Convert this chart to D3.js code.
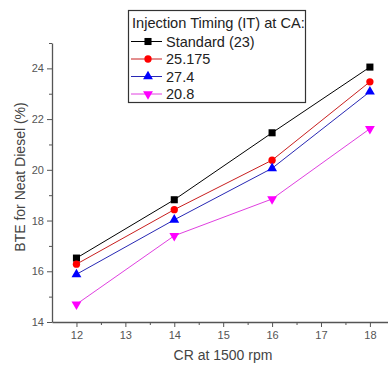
<!DOCTYPE html>
<html>
<head>
<meta charset="utf-8">
<script src="https://cdn.jsdelivr.net/npm/d3@7"></script>
<style>
body{margin:0;background:#fff;}
svg{display:block;font-family:"Liberation Sans",Arial,sans-serif;}
</style>
</head>
<body>
<div id="chart"></div>
<script>
// CR values on the x axis
var crValues = [12, 14, 16, 18];
var seriesNames = ["Standard (23)", "25.175", "27.4", "20.8"];
var standardBTE = [16.52, 18.82, 21.46, 24.05];
var it25175BTE = [16.28, 18.43, 20.38, 23.47];
var it274BTE = [15.88, 18.03, 20.06, 23.08];
var it208BTE = [14.70, 17.40, 18.85, 21.62];
var xTicks = [12, 13, 14, 15, 16, 17, 18];
var yTicks = [14, 16, 18, 20, 22, 24];
var legendTitle = "Injection Timing (IT) at CA:";

var width = 388, height = 365;
var mLeft = 52, mBottom = 322, mTop = 43;

var x = d3.scaleLinear().domain([11.5, 18.37]).range([mLeft, 388]);
var y = d3.scaleLinear().domain([14, 25]).range([mBottom, mTop]);

var series = [
  {name: seriesNames[0], vals: standardBTE, color: "#000000", line: "#000000", sym: d3.symbolSquare, size: 50},
  {name: seriesNames[1], vals: it25175BTE, color: "#ff0000", line: "#c81e1e", sym: d3.symbolCircle, size: 42},
  {name: seriesNames[2], vals: it274BTE, color: "#0000ff", line: "#2828b4", sym: d3.symbolTriangle, size: 42},
  {name: seriesNames[3], vals: it208BTE, color: "#ff00ff", line: "#e040e0", sym: d3.symbolTriangle, size: 42, down: true}
];

var svg = d3.select("#chart").append("svg")
  .attr("width", width).attr("height", height);

var axisCol = "#555";

// x axis
svg.append("g").attr("transform", "translate(0," + mBottom + ")")
  .call(d3.axisBottom(x).tickValues(xTicks).tickSize(5).tickSizeOuter(0).tickPadding(4).tickFormat(d3.format("d")));
svg.append("g").attr("transform", "translate(0," + mBottom + ")")
  .call(d3.axisBottom(x).tickValues(d3.range(12.5, 18.4, 1)).tickSize(3).tickSizeOuter(0).tickFormat(""))
  .select(".domain").remove();

// y axis
svg.append("g").attr("transform", "translate(" + mLeft + ",0)")
  .call(d3.axisLeft(y).tickValues(yTicks).tickSize(5).tickSizeOuter(0).tickPadding(3).tickFormat(d3.format("d")));
svg.append("g").attr("transform", "translate(" + mLeft + ",0)")
  .call(d3.axisLeft(y).tickValues([15, 17, 19, 21, 23, 25]).tickSize(3).tickSizeOuter(0).tickFormat(""))
  .select(".domain").remove();

svg.selectAll(".domain").attr("stroke", axisCol).attr("stroke-width", 1.3);
svg.selectAll(".tick line").attr("stroke", axisCol);
svg.selectAll(".tick text").attr("fill", "#555").style("font-size", "11px");

// axis titles
svg.append("text").attr("x", 223).attr("y", 360).attr("text-anchor", "middle")
  .attr("fill", "#444").style("font-size", "14px").text("CR at 1500 rpm");
svg.append("text").attr("transform", "translate(25,177) rotate(-90)").attr("text-anchor", "middle")
  .attr("fill", "#444").style("font-size", "14px").text("BTE for Neat Diesel (%)");

var line = d3.line().x(function(d, i) { return x(crValues[i]); }).y(function(d) { return y(d); });

series.forEach(function(s) {
  svg.append("path").datum(s.vals).attr("d", line)
    .attr("fill", "none").attr("stroke", s.line).attr("stroke-width", 1);
  svg.selectAll(null).data(s.vals).enter().append("path")
    .attr("d", d3.symbol().type(s.sym).size(s.size))
    .attr("transform", function(d, i) {
      return "translate(" + x(crValues[i]) + "," + y(d) + ")" + (s.down ? " rotate(180)" : "");
    })
    .attr("fill", s.color);
});

// legend
var lg = svg.append("g");
lg.append("rect").attr("x", 128.5).attr("y", 10.5).attr("width", 177).attr("height", 92)
  .attr("fill", "#fff").attr("stroke", "#333").attr("stroke-width", 1.2);
lg.append("text").attr("x", 132).attr("y", 28).style("font-size", "14.6px").attr("fill", "#222").text(legendTitle);
var rowY = [41.5, 59, 76.5, 94];
series.forEach(function(s, i) {
  lg.append("line").attr("x1", 131).attr("x2", 162).attr("y1", rowY[i]).attr("y2", rowY[i])
    .attr("stroke", s.line).attr("stroke-width", 1);
  lg.append("path").attr("d", d3.symbol().type(s.sym).size(s.size))
    .attr("transform", "translate(148," + rowY[i] + ")" + (s.down ? " rotate(180)" : ""))
    .attr("fill", s.color);
  lg.append("text").attr("x", 166).attr("y", rowY[i] + 5).style("font-size", "14.5px").attr("fill", "#222").text(s.name);
});
</script>
</body>
</html>
